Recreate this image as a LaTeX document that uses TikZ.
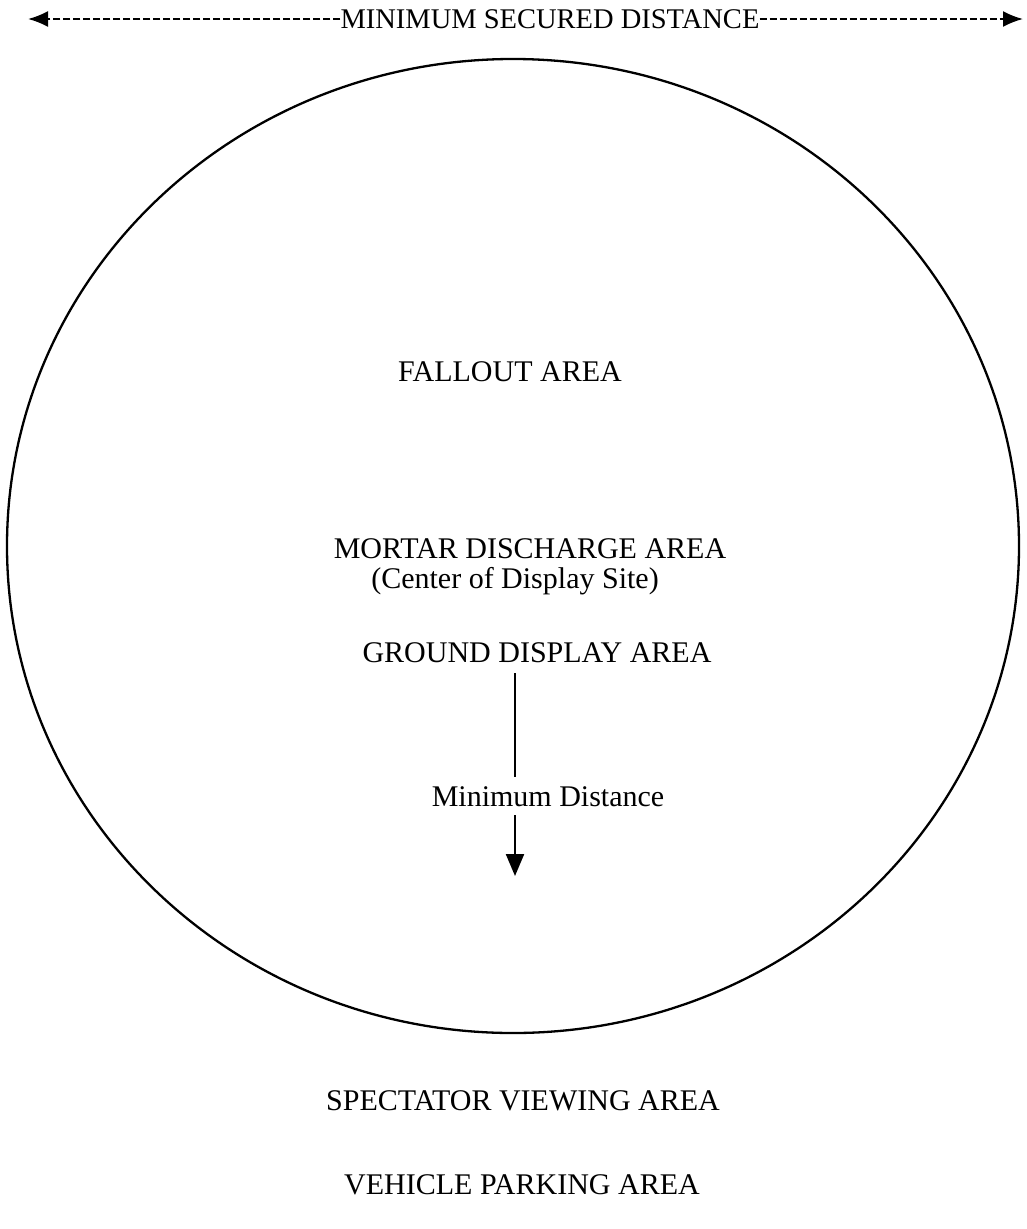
\documentclass[tikz,border=0pt]{standalone}
\usepackage{fontspec}
\setmainfont{Liberation Serif}
\usetikzlibrary{arrows.meta}
\tikzset{
  lbl/.style={font=\fontsize{30}{36}\selectfont, inner sep=0pt},
  toplbl/.style={font=\fontsize{28.5}{34}\selectfont, inner sep=0pt},
  secline/.style={line width=2pt, dash pattern=on 7pt off 3pt},
  sectip/.style={-{Latex[length=20pt,width=16pt]}},
  distline/.style={line width=2.2pt},
  area/.style={line width=2.3pt}
}
\begin{document}
\begin{tikzpicture}[x=1pt,y=-1pt]
\useasboundingbox (0,0) rectangle (1026,1229);
% outer circle
\draw[area] (513,546) ellipse [x radius=506, y radius=487];
% top distance
\node[toplbl] (secured) at (550,19) {MINIMUM SECURED DISTANCE};
\coordinate (leftend) at (28,19);
\coordinate (rightend) at (1023,19);
\draw[secline, sectip] (secured.west) -- (leftend);
\draw[secline, sectip] (secured.east) -- (rightend);
% labels
\node[lbl] (fallout) at (510,372) {FALLOUT AREA};
\node[lbl] (mortar) at (530,549) {MORTAR DISCHARGE AREA};
\node[lbl] (center) at (515,581) {(Center of Display Site)};
\node[lbl] (ground) at (537,653) {GROUND DISPLAY AREA};
\node[lbl] (mind) at (548,797) {Minimum Distance};
\node[lbl] (spect) at (523,1101) {SPECTATOR VIEWING AREA};
\node[lbl] (vehicle) at (522,1185) {VEHICLE PARKING AREA};
% minimum distance arrow
\coordinate (tip) at (515,876);
\draw[distline] ([yshift=-10pt]ground.south -| tip) -- ([yshift=10pt]mind.north -| tip);
\draw[distline, -{Triangle[length=22pt,width=18pt]}] ([yshift=-8pt]mind.south -| tip) -- (tip);
\end{tikzpicture}
\end{document}
